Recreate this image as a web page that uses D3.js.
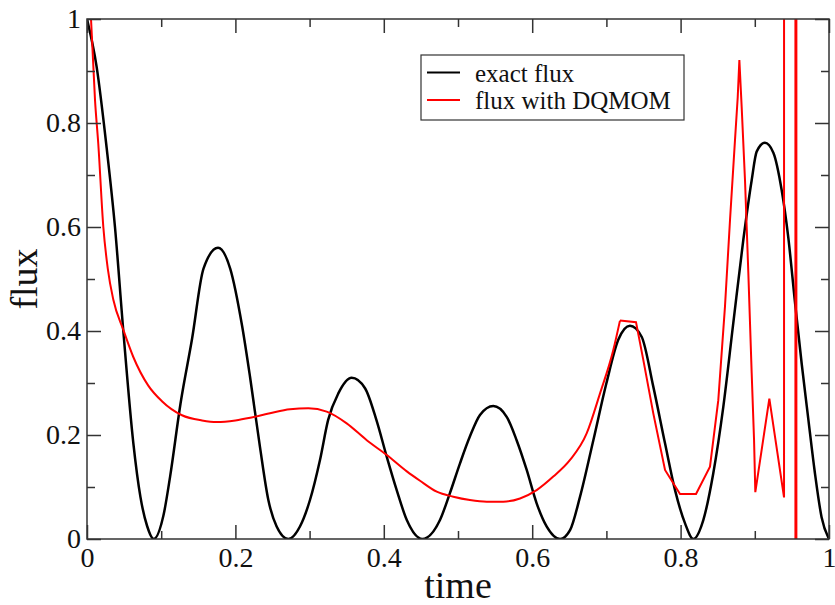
<!DOCTYPE html>
<html>
<head>
<meta charset="utf-8">
<script src="https://cdn.jsdelivr.net/npm/d3@7"></script>
<style>
  body { margin: 0; background: #fff; }
  svg text, .tick text { font-family: "Liberation Serif", "Times New Roman", serif !important; }
</style>
</head>
<body>
<div id="chart"></div>
<script>
// data
const exactT = [0, 0.013, 0.0265, 0.0377, 0.049, 0.0624, 0.072, 0.081, 0.09,
  0.103, 0.112, 0.126, 0.1416, 0.157, 0.1766, 0.193, 0.209, 0.2197, 0.233, 0.2444, 0.2556, 0.2713,
  0.287, 0.3005, 0.314, 0.325, 0.3387, 0.3567, 0.3747, 0.39, 0.404, 0.4174, 0.431, 0.452,
  0.4757, 0.489, 0.5027, 0.516, 0.5296, 0.5476, 0.5656, 0.579, 0.5926, 0.606, 0.6196, 0.6375,
  0.651, 0.6644, 0.6824, 0.700, 0.716, 0.7318, 0.7475, 0.7632, 0.779, 0.7925, 0.806, 0.8171,
  0.8306, 0.844, 0.8576, 0.871, 0.8845, 0.8958, 0.9025, 0.9137, 0.925, 0.9362, 0.9452, 0.9542,
  0.9632, 0.972, 0.981, 0.990, 1.0];
const exactFlux = [1, 0.908, 0.752, 0.60, 0.399, 0.185, 0.081, 0.025, 0,
  0.045, 0.12, 0.26, 0.385, 0.52, 0.56, 0.52, 0.41, 0.312, 0.178, 0.075, 0.024, 0,
  0.024, 0.075, 0.152, 0.229, 0.28, 0.31, 0.29, 0.229, 0.158, 0.094, 0.0365, 0,
  0.0365, 0.0878, 0.1455, 0.197, 0.2385, 0.2558, 0.235, 0.19, 0.1327, 0.0686, 0.0237, 0,
  0.017, 0.081, 0.19, 0.2994, 0.383, 0.41, 0.389, 0.293, 0.184, 0.094, 0.03, 0,
  0.0365, 0.126, 0.2545, 0.415, 0.575, 0.69, 0.745, 0.762, 0.743, 0.671, 0.579, 0.4545,
  0.337, 0.232, 0.127, 0.042, 0];

const dqmomT = [0.0054, 0.0108, 0.0152, 0.022, 0.028, 0.0355, 0.049, 0.0624, 0.0826,
  0.101, 0.128, 0.155, 0.175, 0.2, 0.22, 0.2466, 0.2736, 0.2983, 0.323, 0.35, 0.377, 0.404,
  0.431, 0.4488, 0.4713, 0.4937, 0.516, 0.5387, 0.561, 0.5836, 0.606, 0.6284, 0.651, 0.6734,
  0.6914, 0.7093, 0.7183, 0.7399, 0.7498, 0.7632, 0.779, 0.7992, 0.8208, 0.8396, 0.8508,
  0.8598, 0.8666, 0.8733, 0.877, 0.8792, 0.8823, 0.8868, 0.8913, 0.8958, 0.899, 0.9007,
  0.9196, 0.9394, 0.9405, 0.9545, 0.955, 0.9558, 0.9563, 1.0];
const dqmomFlux = [1.0, 0.844, 0.76, 0.60, 0.52, 0.46, 0.402, 0.35, 0.295,
  0.265, 0.238, 0.228, 0.225, 0.228, 0.233, 0.2417, 0.2494, 0.2513, 0.2449, 0.2224, 0.19, 0.1615,
  0.13, 0.112, 0.091, 0.0814, 0.075, 0.0718, 0.0718, 0.078, 0.094, 0.12, 0.152, 0.203,
  0.28, 0.3635, 0.42, 0.417, 0.344, 0.2417, 0.1327, 0.0865, 0.0865, 0.139, 0.267,
  0.447, 0.6135, 0.767, 0.85, 0.921, 0.831, 0.69, 0.511, 0.319, 0.19, 0.09,
  0.27, 0.08, 40, 40, -40, 40, -40, -40];
// DQMOM output is smooth up to this time, then jagged
const dqmomSmoothUntil = 0.7183;

const xMajor = [0, 0.2, 0.4, 0.6, 0.8, 1];
const xMinor = [0.1, 0.3, 0.5, 0.7, 0.9];
const yMajor = [0, 0.2, 0.4, 0.6, 0.8, 1];
const yMinor = [0.1, 0.3, 0.5, 0.7, 0.9];
const xLabels = ["0", "0.2", "0.4", "0.6", "0.8", "1"];
const yLabels = ["0", "0.2", "0.4", "0.6", "0.8", "1"];
const seriesNames = ["exact flux", "flux with DQMOM"];
const seriesColors = ["#000000", "#ff0000"];

const W = 835, H = 605;
const margin = {top: 19, right: 6, bottom: 66, left: 87};
const width = W - margin.left - margin.right;
const height = H - margin.top - margin.bottom;

const svg = d3.select("#chart")
  .append("svg")
    .attr("width", W)
    .attr("height", H)
  .append("g")
    .attr("transform", `translate(${margin.left}, ${margin.top})`);

const xScale = d3.scaleLinear().domain([0, 1]).range([0, width]);
const yScale = d3.scaleLinear().domain([0, 1]).range([height, 0]);

svg.append("clipPath").attr("id", "plotClip")
  .append("rect").attr("width", width).attr("height", height);

// curves
const exactData = exactT.map((t, i) => [t, exactFlux[i]]);
const dqmomData = dqmomT.map((t, i) => [t, dqmomFlux[i]]);

svg.append("path")
  .datum(exactData)
  .attr("clip-path", "url(#plotClip)")
  .attr("fill", "none")
  .attr("stroke", seriesColors[0])
  .attr("stroke-width", 2.5)
  .attr("d", d3.line().x(d => xScale(d[0])).y(d => yScale(d[1])).curve(d3.curveMonotoneX));

const redLine = d3.line().x(d => xScale(d[0])).y(d => yScale(d[1]));
svg.append("path")
  .datum(dqmomData.filter(d => d[0] <= dqmomSmoothUntil))
  .attr("clip-path", "url(#plotClip)")
  .attr("fill", "none")
  .attr("stroke", seriesColors[1])
  .attr("stroke-width", 2)
  .attr("d", redLine.curve(d3.curveMonotoneX));
svg.append("path")
  .datum(dqmomData.filter(d => d[0] >= dqmomSmoothUntil))
  .attr("clip-path", "url(#plotClip)")
  .attr("fill", "none")
  .attr("stroke", seriesColors[1])
  .attr("stroke-width", 2)
  .attr("d", redLine.curve(d3.curveLinear));

// axes, ticks inward on all four sides
function styleAxis(g) {
  g.attr("font-family", "Liberation Serif");
  g.select(".domain").remove();
  g.selectAll(".tick line").attr("stroke", "#333").attr("stroke-width", 1.5);
  g.selectAll("text")
    .attr("fill", "#111")
    .style("font-size", "28px");
}

const xFmt = (d, i) => xLabels[i];
const yFmt = (d, i) => yLabels[i];

svg.append("g")
  .attr("transform", `translate(0, ${height})`)
  .call(d3.axisBottom(xScale).tickValues(xMajor).tickSize(-14).tickPadding(8).tickFormat(xFmt))
  .call(styleAxis);
svg.append("g")
  .attr("transform", `translate(0, ${height})`)
  .call(d3.axisBottom(xScale).tickValues(xMinor).tickSize(-8).tickFormat(""))
  .call(styleAxis);
svg.append("g")
  .call(d3.axisTop(xScale).tickValues(xMajor).tickSize(-14).tickFormat(""))
  .call(styleAxis);
svg.append("g")
  .call(d3.axisTop(xScale).tickValues(xMinor).tickSize(-8).tickFormat(""))
  .call(styleAxis);

svg.append("g")
  .call(d3.axisLeft(yScale).tickValues(yMajor).tickSize(-14).tickPadding(6).tickFormat(yFmt))
  .call(styleAxis);
svg.append("g")
  .call(d3.axisLeft(yScale).tickValues(yMinor).tickSize(-8).tickFormat(""))
  .call(styleAxis);
svg.append("g")
  .attr("transform", `translate(${width}, 0)`)
  .call(d3.axisRight(yScale).tickValues(yMajor).tickSize(-14).tickFormat(""))
  .call(styleAxis);
svg.append("g")
  .attr("transform", `translate(${width}, 0)`)
  .call(d3.axisRight(yScale).tickValues(yMinor).tickSize(-8).tickFormat(""))
  .call(styleAxis);

// frame
svg.append("rect")
  .attr("width", width)
  .attr("height", height)
  .attr("fill", "none")
  .attr("stroke", "#333")
  .attr("stroke-width", 1.5);

// axis titles
svg.append("text")
  .attr("x", width / 2)
  .attr("y", height + 59)
  .attr("text-anchor", "middle")
  .attr("fill", "#111")
  .style("font-size", "38px")
  .text("time");

svg.append("text")
  .attr("transform", `translate(${37 - margin.left}, ${279 - margin.top}) rotate(-90)`)
  .attr("text-anchor", "middle")
  .attr("fill", "#111")
  .style("font-size", "38px")
  .text("flux");

// legend
const legend = svg.append("g")
  .attr("transform", `translate(${421 - margin.left}, ${55 - margin.top})`);
legend.append("rect")
  .attr("width", 263)
  .attr("height", 65)
  .attr("fill", "#fff")
  .attr("stroke", "#333")
  .attr("stroke-width", 1.2);
seriesNames.forEach((name, i) => {
  const yy = 17.5 + i * 27.5;
  legend.append("line")
    .attr("x1", 6).attr("x2", 39)
    .attr("y1", yy).attr("y2", yy)
    .attr("stroke", seriesColors[i])
    .attr("stroke-width", 2);
  legend.append("text")
    .attr("x", 54)
    .attr("y", yy + 9)
    .attr("fill", "#111")
    .style("font-size", "25px")
    .text(name);
});
</script>
</body>
</html>
